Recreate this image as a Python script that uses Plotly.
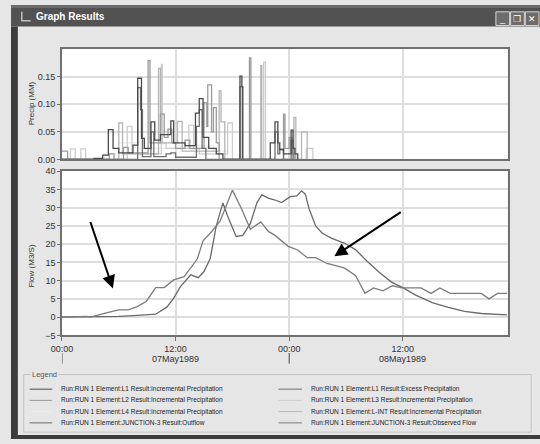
import pandas as pd
import plotly.graph_objects as go

W, H = 540, 444
START = pd.Timestamp("1989-05-07 00:00")


def times(hours):
    return [START + pd.Timedelta(hours=h) for h in hours]


def fx(px):
    return px / W


def fy(py):
    return 1 - py / H


# ---- precipitation hyetographs (hours from 07May1989 00:00, mm per step) ----
l1_inc_h = [0.0, 3.4, 4.3, 4.9, 5.4, 6.0, 7.5, 8.0, 8.4, 8.7, 9.4, 9.8, 10.4, 11.5, 11.8, 13.0,
            14.1, 14.5, 14.9, 15.5, 16.3, 17.0, 18.8, 19.0, 19.1, 22.0, 22.5, 22.8, 23.0, 23.4,
            24.2, 24.4, 24.6, 24.9]
l1_inc_v = [0.0, 0.002, 0.008, 0.054, 0.02, 0.012, 0.026, 0.147, 0.038, 0.02, 0.068, 0.035,
            0.045, 0.07, 0.03, 0.025, 0.084, 0.11, 0.04, 0.02, 0.01, 0.0, 0.151, 0.132, 0.0,
            0.03, 0.068, 0.03, 0.018, 0.01, 0.053, 0.02, 0.01, 0.0]

l1_exc_h = [0.0, 8.0, 8.3, 8.5, 9.4, 9.7, 11.0, 11.5, 12.0, 14.2, 14.5, 14.8, 15.2, 18.8, 19.05,
            22.5, 22.8, 23.0, 23.4, 24.2, 24.4]
l1_exc_v = [0.0, 0.13, 0.09, 0.005, 0.05, 0.005, 0.01, 0.012, 0.004, 0.06, 0.09, 0.02, 0.0,
            0.132, 0.0, 0.05, 0.01, 0.018, 0.0, 0.035, 0.0]

l2_inc_h = [0.0, 0.6, 5.0, 5.5, 6.5, 7.0, 9.1, 9.3, 10.4, 10.8, 11.2, 11.6, 12.0, 13.0, 13.5,
            15.0, 15.3, 15.4, 15.8, 16.0, 16.3, 16.6, 19.8, 19.95, 23.4, 23.55, 24.0, 24.3, 24.6]
l2_inc_v = [0.015, 0.0, 0.01, 0.0, 0.022, 0.012, 0.179, 0.03, 0.082, 0.04, 0.055, 0.03, 0.02,
            0.035, 0.02, 0.103, 0.06, 0.135, 0.05, 0.094, 0.03, 0.0, 0.184, 0.0, 0.082, 0.02,
            0.04, 0.01, 0.0]

l3_inc_h = [0.0, 0.9, 1.4, 2.0, 2.5, 6.9, 7.4, 10.5, 10.6, 11.0, 13.4, 13.9, 14.5, 17.5, 18.0,
            21.3, 21.5, 25.8, 26.5]
l3_inc_v = [0.0, 0.019, 0.0, 0.019, 0.0, 0.06, 0.01, 0.172, 0.03, 0.02, 0.062, 0.02, 0.01,
            0.066, 0.0, 0.176, 0.0, 0.02, 0.0]

l4_inc_h = [0.0, 4.5, 6.0, 8.0, 12.0, 16.0, 17.5]
l4_inc_v = [0.0, 0.01, 0.03, 0.02, 0.025, 0.015, 0.0]

lint_inc_h = [0.0, 6.0, 6.4, 10.2, 10.4, 12.2, 12.7, 16.6, 16.8, 17.2, 21.0, 21.1, 24.5, 24.7,
              25.3, 25.9]
lint_inc_v = [0.0, 0.066, 0.01, 0.165, 0.03, 0.069, 0.015, 0.124, 0.068, 0.0, 0.17, 0.0, 0.076,
              0.0, 0.05, 0.0]

# ---- flow hydrographs at JUNCTION-3 (m3/s) ----
outflow_h = [0, 5.0, 6.0, 8.0, 9.0, 9.9, 11.1, 11.8, 12.5, 13.6, 14.4, 15.0, 15.65, 16.3, 17.0,
             17.6, 18.4, 19.1, 19.9, 20.6, 21.1, 21.8, 22.5, 23.2, 24.1, 24.8, 25.3, 25.7, 26.1,
             26.8, 27.5, 28.5, 29.8, 31.0, 32.2, 33.5, 34.8, 36.0, 37.3, 39.1, 40.8, 42.5, 44.3,
             47.0]
outflow_v = [0, 0, 0.2, 0.5, 0.6, 0.8, 2.8, 5.2, 8.3, 11.6, 10.8, 12.5, 16.0, 25.0, 31.3, 27.0,
             22.1, 22.4, 25.7, 31.4, 33.5, 32.6, 32.1, 31.4, 33.0, 33.2, 34.6, 33.7, 29.7, 24.9,
             23.0, 21.6, 20.3, 18.5, 15.4, 12.3, 9.6, 8.1, 6.1, 4.0, 2.7, 1.6, 1.0, 0.6]

observed_h = [0, 1.8, 2.6, 3.0, 3.9, 4.9, 6.0, 7.0, 7.9, 8.9, 9.9, 10.8, 11.8, 12.9, 13.9, 14.3,
              14.9, 15.8, 16.7, 17.3, 18.0, 19.0, 19.9, 21.0, 21.8, 22.5, 23.2, 23.9, 24.9, 25.9,
              26.8, 28.0, 29.8, 31.0, 32.0, 32.9, 33.9, 34.9, 35.9, 37.9, 39.0, 39.9, 41.0, 44.3,
              45.1, 46.0, 47.0]
observed_v = [0, 0.2, 0.2, 0, 0.7, 1.3, 2.0, 2.0, 2.8, 4.3, 8.1, 8.1, 10.2, 11.1, 14.5, 16.0,
              20.9, 23.4, 26.3, 30.1, 34.8, 29.5, 24.1, 26.1, 23.5, 22.4, 20.9, 19.4, 18.4, 16.3,
              16.3, 14.7, 13.5, 11.4, 6.5, 8.0, 7.2, 8.6, 8.0, 8.0, 6.5, 8.0, 6.5, 6.5, 5.0, 6.5,
              6.5]

# axis ticks
x_tick_hours = [0, 12, 24, 36]
x_tick_text = ["00:00", "12:00", "00:00", "12:00"]
day_hours = [12, 36]
day_text = ["07May1989", "08May1989"]
precip_ticks = [0.0, 0.05, 0.10, 0.15]
precip_tick_text = ["0.00", "0.05", "0.10", "0.15"]
flow_ticks = [-5, 0, 5, 10, 15, 20, 25, 30, 35, 40]

# series: (name, hours, values, colour, legend column, legend row)
precip_series = [
    ("Run:RUN 1 Element:L4 Result:Incremental Precipitation", l4_inc_h, l4_inc_v, "#ececec", 0, 2),
    ("Run:RUN 1 Element:L3 Result:Incremental Precipitation", l3_inc_h, l3_inc_v, "#cdcdcd", 1, 1),
    ("Run:RUN 1 Element:L-INT Result:Incremental Precipitation", lint_inc_h, lint_inc_v, "#b4b4b4", 1, 2),
    ("Run:RUN 1 Element:L2 Result:Incremental Precipitation", l2_inc_h, l2_inc_v, "#9a9a9a", 0, 1),
    ("Run:RUN 1 Element:L1 Result:Excess Precipitation", l1_exc_h, l1_exc_v, "#6e6e6e", 1, 0),
    ("Run:RUN 1 Element:L1 Result:Incremental Precipitation", l1_inc_h, l1_inc_v, "#4a4a4a", 0, 0),
]
flow_series = [
    ("Run:RUN 1 Element:JUNCTION-3 Result:Outflow", outflow_h, outflow_v, "#6a6a6a", 0, 3),
    ("Run:RUN 1 Element:JUNCTION-3 Result:Observed Flow", observed_h, observed_v, "#7c7c7c", 1, 3),
]

fig = go.Figure()
for name, hrs, vals, col, _, _ in precip_series:
    fig.add_trace(go.Scatter(x=times(hrs), y=vals, mode="lines", line_shape="hv",
                             line=dict(color=col, width=1.3), name=name,
                             xaxis="x", yaxis="y", showlegend=False))
for name, hrs, vals, col, _, _ in flow_series:
    fig.add_trace(go.Scatter(x=times(hrs), y=vals, mode="lines",
                             line=dict(color=col, width=1.3), name=name,
                             xaxis="x2", yaxis="y2", showlegend=False))

x_range = [START, START + pd.Timedelta(hours=47.07)]
tick_font = dict(family="Liberation Sans, Arial, sans-serif", size=9, color="#333333")
grid_col = "#dedede"
frame_col = "#707070"

common_x = dict(type="date", range=x_range, tickvals=times(x_tick_hours), ticktext=x_tick_text,
                showgrid=True, gridcolor=grid_col, gridwidth=1.5, showline=True, mirror=True,
                linecolor=frame_col, linewidth=1.5, zeroline=False, tickfont=tick_font,
                domain=[fx(52), fx(507)])

fig.update_layout(
    width=W, height=H,
    margin=dict(l=0, r=0, t=0, b=0),
    paper_bgcolor="#e6e6e6",
    plot_bgcolor="#ffffff",
    font=dict(family="Liberation Sans, Arial, sans-serif", color="#333333"),
    xaxis=dict(common_x, anchor="y", showticklabels=False, ticks=""),
    yaxis=dict(domain=[fy(158), fy(45)], range=[0, 0.2], tickvals=precip_ticks,
               ticktext=precip_tick_text, showgrid=True, gridcolor=grid_col, gridwidth=1.5,
               showline=True, mirror=True, linecolor=frame_col, linewidth=1.5, zeroline=False,
               ticks="outside", ticklen=3, tickcolor=frame_col, tickfont=tick_font),
    xaxis2=dict(common_x, anchor="y2", ticks="outside", ticklen=4, tickcolor=frame_col),
    yaxis2=dict(domain=[fy(338), fy(170)], range=[-5, 40], tickvals=flow_ticks,
                showgrid=True, gridcolor=grid_col, gridwidth=1.5, showline=True, mirror=True,
                linecolor=frame_col, linewidth=1.5, zeroline=False, ticks="outside", ticklen=3,
                tickcolor=frame_col, tickfont=tick_font),
    showlegend=False,
)

shapes = []
annots = []

# window chrome: title bar, left and bottom frame
shapes.append(dict(type="rect", xref="paper", yref="paper", x0=0, x1=1, y0=fy(22), y1=1,
                   fillcolor="#525252", line=dict(width=0), layer="above"))
shapes.append(dict(type="rect", xref="paper", yref="paper", x0=0, x1=1, y0=fy(3), y1=1,
                   fillcolor="#6a6a6a", line=dict(width=0), layer="above"))
shapes.append(dict(type="rect", xref="paper", yref="paper", x0=0, x1=fx(7), y0=0, y1=fy(22),
                   fillcolor="#3c3c3c", line=dict(width=0), layer="above"))
shapes.append(dict(type="rect", xref="paper", yref="paper", x0=0, x1=1, y0=0, y1=fy(440),
                   fillcolor="#3c3c3c", line=dict(width=0), layer="above"))
# title icon
shapes.append(dict(type="path", xref="paper", yref="paper",
                   path=f"M {fx(11)},{fy(7)} L {fx(11)},{fy(16)} L {fx(20)},{fy(16)}",
                   line=dict(color="#bdbdbd", width=1.5), layer="above"))
annots.append(dict(text="<b>Graph Results</b>", x=fx(23), y=fy(12), xref="paper", yref="paper",
                   xanchor="left", yanchor="middle", showarrow=False,
                   font=dict(family="Liberation Sans, Arial, sans-serif", size=10, color="#ffffff")))
# caption buttons
for x0, glyph in [(495, "_"), (510, "❐"), (525, "✕")]:
    shapes.append(dict(type="rect", xref="paper", yref="paper", x0=fx(x0), x1=fx(x0 + 14),
                       y0=fy(21), y1=fy(7), fillcolor="#6c6c6c",
                       line=dict(color="#d8d8d8", width=1), layer="above"))
    annots.append(dict(text=glyph, x=fx(x0 + 7), y=fy(14), xref="paper", yref="paper",
                       showarrow=False, xanchor="center", yanchor="middle",
                       font=dict(size=9, color="#ffffff")))

# axis titles
annots.append(dict(text="Precip (MM)", x=fx(21), y=fy(101), xref="paper", yref="paper",
                   xanchor="center", yanchor="middle", textangle=-90, showarrow=False,
                   font=dict(size=8, color="#333333")))
annots.append(dict(text="Flow (M3/S)", x=fx(21), y=fy(267), xref="paper", yref="paper",
                   xanchor="center", yanchor="middle", textangle=-90, showarrow=False,
                   font=dict(size=8, color="#333333")))

# day labels and day separators under the time axis
for h, txt in zip(day_hours, day_text):
    annots.append(dict(text=txt, x=START + pd.Timedelta(hours=h), y=fy(362), xref="x2",
                       yref="paper", showarrow=False, yanchor="middle",
                       font=dict(size=9, color="#333333")))
for h in [0, 24]:
    t = START + pd.Timedelta(hours=h)
    shapes.append(dict(type="line", xref="x2", yref="paper", x0=t, x1=t, y0=fy(356), y1=fy(367),
                       line=dict(color="#444444", width=1)))

# pointer arrows
for tip, tail in [((104, 290), (81, 222)), ((330, 257), (398, 212))]:
    annots.append(dict(text="", x=fx(tip[0]), y=fy(tip[1]), xref="paper", yref="paper",
                       ax=tail[0] - tip[0], ay=tail[1] - tip[1], showarrow=True,
                       arrowhead=2, arrowsize=1.3, arrowwidth=2, arrowcolor="#000000"))

# legend group box
shapes.append(dict(type="rect", xref="paper", yref="paper", x0=fx(13), x1=fx(531),
                   y0=fy(437), y1=fy(378), line=dict(color="#c4c4c4", width=1),
                   fillcolor="rgba(0,0,0,0)"))
annots.append(dict(text="Legend", x=fx(19), y=fy(378), xref="paper", yref="paper",
                   xanchor="left", yanchor="middle", showarrow=False, bgcolor="#e6e6e6",
                   borderpad=1, font=dict(size=7.5, color="#555555")))
row_y = [393, 404.5, 416, 427.5]
col_x = [(19, 42, 49), (273, 297, 304)]
for name, _, _, col, c, r in precip_series + flow_series:
    lx0, lx1, tx = col_x[c]
    shapes.append(dict(type="line", xref="paper", yref="paper", x0=fx(lx0), x1=fx(lx1),
                       y0=fy(row_y[r]), y1=fy(row_y[r]), line=dict(color=col, width=1)))
    annots.append(dict(text=name, x=fx(tx), y=fy(row_y[r]), xref="paper", yref="paper",
                       xanchor="left", yanchor="middle", showarrow=False,
                       font=dict(size=6.5, color="#222222")))

fig.update_layout(shapes=shapes, annotations=annots)
fig.write_html("out.html")
